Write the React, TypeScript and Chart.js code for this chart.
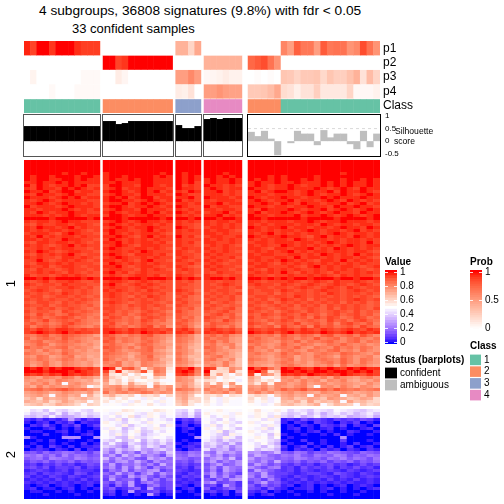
import React, { useEffect, useRef } from "react";
import { Chart, registerables } from "chart.js";

Chart.register(...registerables);

const fontName = '"Liberation Sans", Arial, sans-serif';

const groupSizes = [12, 11, 4, 6, 20];
const groupGaps = [0.475, 0.475, 0.475, 0.95, 0];
const groupColumnWidths = [1, 1, 1, 1, 1.0425];
const heatTokenSizes = [12, 11, 4, 6, 5, 15];

const annotationLabels = ["p1", "p2", "p3", "p4", "Class"];
const p1Values = [0.96, 0.88, 1, 1, 0.92, 1, 1, 1, 0.94, 0.9, 0.9, 0.9, 0, 0, 0, 0, 0, 0, 0, 0, 0, 0, 0, 0.4, 0.4, 0.22, 0.45, 0, 0, 0, 0, 0, 0, 0, 0, 0, 0, 0, 0.62, 0.5, 0.78, 0.68, 0.68, 0.5, 0.8, 0.68, 0.7, 0.7, 0.55, 0.6, 0.85, 0.7, 0.55];
const p2Values = [0, 0, 0, 0, 0, 0, 0, 0, 0, 0, 0, 0, 1, 1, 0.88, 0.92, 1, 1, 1, 1, 1, 1, 1, 0, 0, 0, 0, 0.4, 0.4, 0.4, 0.4, 0.4, 0.4, 0.75, 0.8, 0.85, 0.7, 0.55, 0, 0, 0, 0, 0, 0, 0, 0, 0, 0, 0, 0, 0, 0, 0];
const p3Values = [0, 0.06, 0, 0, 0, 0, 0, 0, 0, 0.03, 0.03, 0.03, 0, 0, 0.1, 0.05, 0, 0, 0, 0, 0, 0, 0, 0.5, 0.5, 0.6, 0.5, 0.04, 0.05, 0.07, 0.1, 0.07, 0.07, 0, 0.02, 0, 0.02, 0, 0.3, 0.28, 0.22, 0.28, 0.28, 0.3, 0.2, 0.3, 0.25, 0.25, 0.32, 0.4, 0.15, 0.35, 0.22];
const p4Values = [0, 0, 0, 0, 0.03, 0, 0, 0, 0.03, 0.03, 0.03, 0.03, 0, 0, 0, 0, 0, 0, 0, 0, 0, 0, 0, 0.1, 0.08, 0.15, 0, 0.5, 0.5, 0.55, 0.5, 0.48, 0.48, 0.28, 0.28, 0.3, 0.35, 0.45, 0.18, 0.15, 0.08, 0.15, 0.15, 0.25, 0.12, 0.12, 0.12, 0.12, 0.22, 0.04, 0.04, 0.04, 0.07];
const classValues = [1, 1, 1, 1, 1, 1, 1, 1, 1, 1, 1, 1, 2, 2, 2, 2, 2, 2, 2, 2, 2, 2, 2, 3, 3, 3, 3, 4, 4, 4, 4, 4, 4, 2, 2, 2, 2, 2, 1, 1, 1, 1, 1, 1, 1, 1, 1, 1, 1, 1, 1, 1, 1];
const silhouetteValues = [0.6, 0.6, 0.6, 0.6, 0.6, 0.6, 0.6, 0.6, 0.6, 0.6, 0.6, 0.6, 0.8, 0.8, 0.68, 0.72, 0.8, 0.8, 0.8, 0.8, 0.8, 0.8, 0.8, 0.64, 0.52, 0.52, 0.6, 0.88, 0.92, 0.88, 0.92, 0.92, 0.92, 0.37, 0.2, 0.41, 0.1, -0.56, 0, -0.08, 0.41, 0.3, 0.3, -0.16, 0.44, 0.15, 0.3, 0.3, -0.12, -0.32, 0.41, -0.24, 0.3];
const silhouetteStatus = [1, 1, 1, 1, 1, 1, 1, 1, 1, 1, 1, 1, 1, 1, 1, 1, 1, 1, 1, 1, 1, 1, 1, 1, 1, 1, 1, 1, 1, 1, 1, 1, 1, 0, 0, 0, 0, 0, 0, 0, 0, 0, 0, 0, 0, 0, 0, 0, 0, 0, 0, 0, 0];
const silhouetteTicks = [-0.5, 0, 0.5, 1];

const valueBarTicks = [0, 0.2, 0.4, 0.6, 0.8, 1];
const valueBarSteps = [-0.03, 0, 0.04, 0.08, 0.12, 0.16, 0.2, 0.24, 0.28, 0.32, 0.36, 0.4, 0.44, 0.48, 0.52, 0.56, 0.6, 0.64, 0.68, 0.72, 0.76, 0.8, 0.84, 0.88, 0.92, 0.96, 1, 1.03];
const probBarTicks = [0, 0.5, 1];
const probBarSteps = [-0.03, 0, 0.04, 0.08, 0.12, 0.16, 0.2, 0.24, 0.28, 0.32, 0.36, 0.4, 0.44, 0.48, 0.52, 0.56, 0.6, 0.64, 0.68, 0.72, 0.76, 0.8, 0.84, 0.88, 0.92, 0.96, 1, 1.035];
const classLegend = ["1", "2", "3", "4"];
const classColors = ["#66C2A5", "#FC8D62", "#8DA0CB", "#E78AC3"];
const statusLegend = ["confident", "ambiguous"];
const statusColors = ["#000000", "#BEBEBE"];
const rowSliceLabels = ["1", "2"];
const rowSliceTicks = [40, 97];

// one string per heatmap row, one character per column (base 36: z = 1, h = about 0.49, 0 = 0)
const heatSliceOne = [
  "zzzzzzzzzzzz zzzzzzzzzzz zzzz zzzzzz zzzzz zzzzzzzzzzzzzzzz",
  "zzzzzzzzzzzz zzzzzzzzzzz zzzz zzzzzz zzzzz zzzzzzzzzzzzzzzz",
  "zzzzzzzzzzzz zzzzzzzzzzz zzzz zzzzzz zzzzz zzzzzzzzzzzzzzzz",
  "zzzzzzzzzzzz zzzzzzzzzzz zzzz zzzzzz zzzzz zzzzzzzzzzzzzzzz",
  "zzzzzzyzzyzz yzzzzzzzzyz zyzz zzzyzz zzzzz zzzzzzzzzyzzzzzz",
  "zyzzyzzzyzzy yzzyzzzzyzy zyzy zzyzyz zzzyz yzzzzyzzzzzzzzzy",
  "zyzzyyzzyzyy yzyyzyzzyyy zyzy yzyyzy zyzyz yzzyzyzzzyzzyzyy",
  "yyzyyzyzyyyy yyzyyyzzyyy zyzx yzyyzy yzyyz yyzyyyzyzyzyyzyy",
  "zxzyxyyzyzxx xzzyyxzzyxy zxyx zyyxyx yzyxy yzyxyyzyzyzyyzyx",
  "yxzyyxzyzyxy xyzxyyzyyyx zyyx yzyxyy zyyxy yzyyyzyxyzyxzyyx",
  "zyyzxyzzxyyx yzzyxyzyzxy yxzy yyzxyx yzxyz zyxyzyyzxzyyzyxy",
  "yxzyyxyzyyxx xyzyyxzyyyx zyxx yyyxyx yyyxy yyxyzyxyyzyxyzyx",
  "zyyyxyzyzxyy yzyzxyzzxyy yyzx zyyyxy zyxyy zyyxyyzyzyyyzyyy",
  "yxyzyxyyyyxx yzzyyxyzyxy zxyx yxyyyx yzyxy yzxyyxyzyxzyxyxx",
  "yyzyxyzyyxyx xyyzxyzyzyx yyxy yyzxyy yyzyx zyxzyyxyyzxyzxyy",
  "zxyyyxyzyyyx yzzyxyyzyxy zyxx zxyyxx zyyxy yxyyzyyxzyyzyyxy",
  "yyxyyyzyxyxy xyzyyxzyyyx yxyx yyxyyx yxzyy yzyxyyzxyzyxyzyx",
  "yxzyxyyzyyxx yzyxyyzyzxy zyxy xyyzxy yzxyy zyxyzyxyzyyxzyyx",
  "yyyxyxyzyxyy xzzyxyyzyyx yxyx yyzxyx zyyxy yyzxyyzyxyzyxyzy",
  "zzzzyzzzzzyz zzzyzzzzzyz zzyz zzyzzy zzyzz zzzyzzzzyzzzzyzy",
  "yxyyxyzyyxxx xyzyxyzyyxy yxyx yxyyxy yyxyy yxyyzyxyyzyyyxyx",
  "xwyxxyyxyyxw yzyxyxyyxyx yxxw yxyxyx yxyxy yyxyyxzyxyyxyyxx",
  "yxzyyxyzxyxx xyzyxyyzyxx zyxw xyyxyx zyxyy zxyyxyyxyzyyxzyx",
  "yxyxyyxyyxwx yzyyxxyzxyx yxyx yxyyxw yyxyx yyxyzyxyyxyzxyxy",
  "xyyyxwyzyxxw xzyxyxyyyxw yxxx yyxyxx yxyzx yxyxyyxyzyxyyxyx",
  "yxzxyxyyxyxx yyzyxwyzxyx zxyw xyyxxy zyxyy zyyxwyzxyyxzyxyx",
  "yyxyxxzyyxxw xzyxyxyxyxx yxxx yxyxyx yxyxy yxzyxyyxyxyyxyxw",
  "xwyyxyyxyxwx yyzxyxyyxyw yxyw yyxxyx xyyxy yyxyyxyzyxyyxzxx",
  "yxyxwxyzxyxx xyzyxwyyyxx yxxw xyxyxw yxyxx zyxyxyxyxyzyxyyx",
  "xxyxyxyyxxwx yzyxxyyxyxw xyxx yxxyxx yyxwy yxyyzxyxzyxyxyxw",
  "yxzyxwxyyxxw xyyxyxzyxxx yxwx xyxyxw xyxyx yzxyxyyxyyxyyxwx",
  "xwyxyxyzxwxx yzyxwyyyxyw yxxw yxyxxx yxyyx xyyxyxzyxyxzxyxx",
  "yxyxxwyyxyxw xyzyxxyxyxx xyxw xyxxyw yyxxy yxzxyyxyxyyxyxwx",
  "xxzxwxyxyxwx yyxyxwyzxxw yxwx yxyxwx xyxyx zyxyxwyyxzxyxyxw",
  "xwyyxyxyxxxw xzyxyxyxyxx xxyw xyxwxx yxyxw yxyxyxyxyxyxyxxw",
  "yxxywxyyxwxx yyzxwxyyxwx yxwv yxyxxw xyyxx xyxwyzxyxyyxwxyx",
  "xwyxxwxyxxwx xyyxxwyxyxw xyxw xyxxwx yxwyx yxyxxyxyxyxyxwxw",
  "xxyxyxwyxwxw yzxywxyxxxx xwxw xwyxxw xyxyx zxwyxyxwyxxyxyxw",
  "ywxxwxyxyxww xyxwxyyxywx yxxv yxxwxx yxxwx xyxxyxyxwyxyxxwx",
  "zzyzyzzzzyzy zzzyzzyzzzy zyzy yzzyzx zzyzy zyzzyzzzyzzyzzyy",
  "xwxywxxyxwwx xyyxwxyxwxw xwxv xxwxxw yxwxx xyxwxyxwyxxyxwxw",
  "yxwxxwyxxxww yzxwxyxyxww xxwv xwxyxw xyxxw yxwxyxwxyxwxyxwx",
  "xwxxwxxyxwxv xyxxwxyxwxw xwwv xxwxwx wxxwx xwxyxwxyxwyxwxxv",
  "wxyxwvxxwxwv yxyxwxwyxww yxwu xwxxwv xwxxw yxwxwxyxxwxyxwxw",
  "xwxwxwyxwxwv xyxwxwxxwxv xwxv wxwxwx xwwxv xwxxwxwyxwxxwxwv",
  "wxxvwxxwxwvw xyxwvxwyxwv wxvu xwxwxv wxxwx xwyxwxxwxwxwxwvw",
  "xwxwxwwxwxwv wxxwxwxwxwv xwvu wxwwxv xwxvw yxwxvxwxxwxyxwxv",
  "wvxxwvxwxwvu xyxwvwxxwvw wxvv xvwxwu wxwxv xwxwxwxwxvxwxvwv",
  "xwwxvwxwwvwu wxwvxwxwxwu xwvu wxwvwv xwvwx wxvxwxvxwxwxwvwu",
  "wvxwxvwxwvuv xxwvwvxwvwv wvwt xwvwxu wxwvw xwvwxwvxvxwxwvxu",
  "xvwwvuxwvwvu wxvwvuwxwvt xvut wvwxvu xwvwu wxwvxwvwxwvxvwvu",
  "wuxvwuvxwvut xwvwuvxwvwu wvut vwxvwt wvxwv xwvxvwuwxvwxvwut",
  "xvwuvwxwuvtu vxwuvtwxwvt wuvs xwvuwu xvwvu wxvwuxvxwuvxwuvt",
  "wuvxuvwvwutt xwvuvuxwuvs vwus wvuxvt wvuwv xwuvwvuxvwuwxvut",
  "vwuvtuwxvuts wxutvuwvuts wvtr uwvvus xwvtv wvxuvwuwtwxvuwtt",
  "wtvwuvxvutsu xwuvtuwxtvr vwtq vwutvs wuvwt xvuwtxvwuvwuxvus",
  "xwyxwyyxwxww yyxwyxyxxwx xywt xyxwxv yxwxx yxwyxwyxwxyxwyxv",
  "xyzyxyzxyxxw yzyxyxzyxyw yxyu yxyxyw zyxyw yzxyyxzyxyzxyxyw",
  "utvwtuwvutsq wvtsutvwtsr vusp uvtvsr vutus wutvusvwtuvtwusr",
  "vsuvutwutsrs vwtutsvutsq utsp vtuurq uvtst vusutwtuvsuvtsur",
  "tuvstuvtusrq wvsutsuvtrp utrp uvsurq vutsr utvsutuvtsuvsutq",
  "stvurtutsrsq uvtsrtvusrq tsqo turstp tusrs vtsutrsutvtstrsr",
  "vtustuvstsrp wvusuruvssp uspo vusqtq vstrt utvsrutsvtusutrq",
  "strusrutrsqr uvtrstuvrqo tsqn tusrqp usrtq tusrutsuvstrusrq",
  "utsrtsvtsrqq vutsqruusrp usqo utrsqo tusrs vtusrtutsvutsrtp",
  "srutqrtuqrpq utsrpstvrqn troo sturqo tsrqs utqsrutsqutrstqr",
  "tsutrsutrsqp vtrsqrtuspo uspn turqsn utsqr tuqsrtutsvtrutrq",
  "trsurqtsrqrp tsuqrptsrqn tsqo srqtqn trrqs utrsqstusvtrusrq",
  "tqsurqtsrqro stuqrptsqpm srpm rsqtpn srqpr tusrqsrtqurstrqp",
  "zyzxzyzzyxyw zylvwrkqtsk yxzu yxlmsq zwyur zyzyxzyzyxzyzyyw",
  "zzzyzzzyzyxw xmyknpwkusj yzyt zklltk yzvkn zzyzyzzyzzyzyzxw",
  "yxywyxzyxyxv ukjmhlhisrh xyws xkqkhm xjtql yxyxzyxyxzyxwyxv",
  "srqtsrutqsrp smkikjmhnli srpm pmhkjh qnhik srtqsrtqusrqstro",
  "rqsrqtsrqpqm rkmhlhijkhh srqk lkhjig pmjlh rsqtrspsrtqprqsq",
  "qsrtqshrsqpo pkmjqlkhoji qrpl pjqkri okqjs sqrtqrsqrsrqpsqn",
  "rptqsrqsrphl qrsorpqhspr qspm qsrhpr rqsps rqstphrsqtrpsrph",
  "tuvtuvwutusr srtqutsqrps utsp trsqus srtqs vtuwtuvtwutustur",
  "qrsrpqsrqprn uqstrsutqsr qrpn qsrtps rtqsp rsqrqpsrqsrpqrpo",
  "pqrphqrpqhpl nplkmhlkmhl pqni lkmhlk kmlhn qrpqhrpqrhpqorpm",
  "nplqopqnopnm jlhkihgjigh oqml lhgjih likgh pqnoqpnrqpnoqpln",
  "ponplnqomnhl khjigkhigjh npkl kigjhh khjgi onplqmonphqnomlk",
  "mnolmponlhml hihgjihkhgh mokh jhgihh ihghk nomlnphlonmhnlmh",
];

const heatSliceTwo = [
  "ifgdhfeghfei ihhkjhihkji fehd hijhih ikhij hegfdgfehgfedfgh",
  "gdefcgbfdgef hgjhigfjhgi ecgb jhihgj hjigh fdegcfbegdfcegde",
  "dcebgcabdfce gifhkegjifh dcfa ifhjgi gjifk ecfbdgcedfbcdfbc",
  "2131213a4132 gfjdhgifhge 1325 hgeifh hifjg 1214232132324312",
  "101202130211 jhgeihfjhig 0213 ifhjge jgihf 1021032102130102",
  "021410214013 ihfjdghgiej 1201 gjehfi ihfjg 0102103213021031",
  "100120102001 gjhcfiegjgh 0120 jhfigd hgjeh 0120101201001201",
  "011001201010 ifgdhjdehfi 0100 hgjcfh jhfgi 0010120100210010",
  "000200100120 hfjeigcfgih 0010 igecjg ighdj 1001001020100100",
  "910000999009 hgdcjfegihf 0009 hfdjgc hjiei 0100000009000000",
  "001020010010 fdhceibfdgd 0100 gebfcd gihfd 1002001003000100",
  "010010100201 cgb9fdaecfb 1012 dfcae9 hfieb 0100201001020012",
  "102031020112 eca7dgbfd9c 0121 cead8b ifcgd 2013010201301201",
  "012102103021 b8dacfa9ceb 1023 f9bc7a hcfeb 1021203120210213",
  "453645764536 a6c795b8a7d 5476 86c9a7 9a78c 5476354765436547",
  "768574857645 7a5c8b6974b 6587 b7a586 7b965 7685476587465768",
  "567487658756 c6a7954b8a6 7645 69b7c5 a6875 6587564768576476",
  "354635463545 859a6b74967 4536 7a5869 8695b 5463546354635465",
  "231324231243 5a4769584b6 3423 47a569 5a746 3242313423124231",
  "342413324132 694a5b73857 2314 594a76 96478 2314232413242314",
  "123212313221 375a4869a35 3212 483a75 4a753 2313212321321232",
  "231323214312 64a5837a496 2132 6a4853 75a43 3212332143213213",
  "312132132123 4853a695374 1323 3a5948 84a63 2132123213212321",
  "121213121312 3a4562a4736 2121 53749a 56384 1213121312131212",
  "212121212121 5374a268534 1212 7a3452 36a45 2121212121211212",
  "101201210120 4163a215734 2102 341a52 52634 1201201012012101",
  "120110120101 3512461a324 0120 512463 43152 1011201201010120",
  "011001010010 2301a123412 1010 231204 21301 0100101001001001",
  "000100001000 1201010a201 0001 010201 10120 0010000100010000",
  "000000000000 00000000000 0000 000000 00000 0000000000000000",
];

const mixCache = new Map();
const labBase = (rgb) => {
  const lin = rgb.map((c) => {
    const v = c / 255;
    return v > 0.04045 ? Math.pow((v + 0.055) / 1.055, 2.4) : v / 12.92;
  });
  const X = (0.4124 * lin[0] + 0.3576 * lin[1] + 0.1805 * lin[2]) / 0.95047;
  const Y = 0.2126 * lin[0] + 0.7152 * lin[1] + 0.0722 * lin[2];
  const Z = (0.0193 * lin[0] + 0.1192 * lin[1] + 0.9505 * lin[2]) / 1.08883;
  const f = (t) => (t > 0.008856 ? Math.cbrt(t) : 7.787 * t + 16 / 116);
  return [116 * f(Y) - 16, 500 * (f(X) - f(Y)), 200 * (f(Y) - f(Z))];
};
const labToCss = (lab) => {
  const fy = (lab[0] + 16) / 116;
  const fx = lab[1] / 500 + fy;
  const fz = fy - lab[2] / 200;
  const g = (t) => (t > 0.206893 ? t * t * t : (t - 16 / 116) / 7.787);
  const X = g(fx) * 0.95047;
  const Y = g(fy);
  const Z = g(fz) * 1.08883;
  const l = [3.2406 * X - 1.5372 * Y - 0.4986 * Z, -0.9689 * X + 1.8758 * Y + 0.0415 * Z, 0.0557 * X - 0.204 * Y + 1.057 * Z];
  const s = l.map((v) => {
    const c = v <= 0.0031308 ? 12.92 * v : 1.055 * Math.pow(Math.max(v, 0), 1 / 2.4) - 0.055;
    return Math.max(0, Math.min(255, Math.round(c * 255)));
  });
  return `rgb(${s[0]},${s[1]},${s[2]})`;
};
const labWhite = labBase([255, 255, 255]);
const labRed = labBase([255, 0, 0]);
const labBlue = labBase([0, 0, 255]);
const mix = (a, b, t) => {
  const k = `${a[2]}|${b[2]}|${t.toFixed(3)}`;
  if (mixCache.has(k)) return mixCache.get(k);
  const c = labToCss([a[0] + (b[0] - a[0]) * t, a[1] + (b[1] - a[1]) * t, a[2] + (b[2] - a[2]) * t]);
  mixCache.set(k, c);
  return c;
};
const clamp01 = (v) => Math.max(0, Math.min(1, v));
const heatColor = (v) => (v < 0.5 ? mix(labBlue, labWhite, clamp01(v / 0.5)) : mix(labWhite, labRed, clamp01((v - 0.5) / 0.5)));
const probColor = (v) => mix(labWhite, labRed, clamp01(v));

const PLOT_LEFT = 24;
const PLOT_RIGHT = 380;
const CANVAS_W = 504;

const columnCenters = [];
const groupSpans = [];
const groupColumns = [];
let cursorUnits = 0;
let columnCursor = 0;
groupSizes.forEach((size, g) => {
  const start = cursorUnits;
  const w = groupColumnWidths[g];
  const cols = [];
  for (let i = 0; i < size; i++) {
    columnCenters.push(cursorUnits + (i + 0.5) * w);
    cols.push(columnCursor + i);
  }
  groupColumns.push(cols);
  columnCursor += size;
  cursorUnits += size * w;
  groupSpans.push([start, cursorUnits]);
  cursorUnits += groupGaps[g];
});
const xUnits = cursorUnits;
const colPx = (PLOT_RIGHT - PLOT_LEFT) / xUnits;
const barPxOf = (g) => colPx * groupColumnWidths[g] + 0.5;

// one dataset per sample group, because the bar width is a dataset option
const groupedBars = (yOf, colorOf, extra = {}) =>
  groupColumns.map((cols, g) => ({
    data: cols.map((c) => ({ x: columnCenters[c], y: yOf(c) })),
    backgroundColor: cols.map(colorOf),
    borderWidth: 0,
    barThickness: barPxOf(g),
    inflateAmount: 0,
    grouped: false,
    ...extra,
  }));

const parseRow = (row) => {
  const tokens = row.split(" ");
  let out = [];
  heatTokenSizes.forEach((size, i) => {
    const t = tokens[i] || "h";
    for (let c = 0; c < size; c++) out.push(parseInt(t[Math.min(c, t.length - 1)], 36) / 35);
  });
  return out;
};

const fixAxis = (s, width) => {
  s.width = width;
  s.paddingTop = 0;
  s.paddingBottom = 0;
  if (s._margins) {
    s._margins.top = 0;
    s._margins.bottom = 0;
  }
};

const xAxis = () => ({ type: "linear", display: false, min: 0, max: xUnits, offset: false, grid: { display: false } });

const baseOptions = (padLeft, padRight, padTop, padBottom, extra) => ({
  responsive: false,
  animation: false,
  devicePixelRatio: 1,
  events: [],
  layout: { autoPadding: false, padding: { left: padLeft, right: padRight, top: padTop, bottom: padBottom } },
  plugins: { legend: { display: false }, tooltip: { enabled: false }, title: { display: false } },
  ...extra,
});

const buildHeatConfig = () => {
  const rowsOne = heatSliceOne.map(parseRow);
  const rowsTwo = heatSliceTwo.map(parseRow);
  const total = rowsOne.length + 1 + rowsTwo.length;
  const datasets = groupColumns.map((cols, g) => {
    const data = [];
    const colors = [];
    cols.forEach((col) => {
      rowsOne.forEach((row, r) => {
        data.push({ x: columnCenters[col], y: [r, r + 1] });
        colors.push(heatColor(row[col]));
      });
      rowsTwo.forEach((row, r) => {
        const top = rowsOne.length + 1 + r;
        data.push({ x: columnCenters[col], y: [top, top + 1] });
        colors.push(heatColor(row[col]));
      });
    });
    return { data, backgroundColor: colors, borderWidth: 0, barThickness: barPxOf(g), inflateAmount: 0, grouped: false };
  });
  return {
    type: "bar",
    data: { datasets },
    options: baseOptions(0, CANVAS_W - PLOT_RIGHT, 0, 0, {
      scales: {
        x: xAxis(),
        y: {
          type: "linear",
          reverse: true,
          min: 0,
          max: total,
          position: "left",
          grid: { display: false, drawTicks: false },
          border: { display: false },
          afterBuildTicks: (s) => { s.ticks = rowSliceTicks.map((value) => ({ value })); },
          afterFit: (s) => fixAxis(s, PLOT_LEFT),
          ticks: { callback: (_v, i) => rowSliceLabels[i], minRotation: 90, maxRotation: 90, padding: 13, color: "#000", font: { family: fontName, size: 13 }, autoSkip: false },
        },
      },
    }),
  };
};

const buildAnnotationConfig = () => {
  const rows = [p1Values, p2Values, p3Values, p4Values];
  const datasets = [];
  rows.forEach((vals, r) => {
    datasets.push(...groupedBars(() => [r - 0.5, r + 0.5], (c) => probColor(vals[c]), { label: annotationLabels[r] }));
  });
  datasets.push(...groupedBars(() => [3.54, 4.5], (c) => classColors[classValues[c] - 1], { label: "Class" }));
  return {
    type: "bar",
    data: { datasets },
    options: baseOptions(PLOT_LEFT, 0, 0, 0, {
      scales: {
        x: xAxis(),
        y: {
          type: "linear",
          reverse: true,
          min: -0.5,
          max: 4.5,
          position: "right",
          grid: { display: false, drawTicks: false },
          border: { display: false },
          afterBuildTicks: (s) => { s.ticks = annotationLabels.map((_l, i) => ({ value: i })); },
          afterFit: (s) => fixAxis(s, CANVAS_W - PLOT_RIGHT),
          ticks: { callback: (_v, i) => annotationLabels[i], padding: 3, color: "#000", font: { family: fontName, size: 12 }, autoSkip: false },
        },
      },
    }),
  };
};

const frameCount = groupSpans.length;
const panelFramesPlugin = {
  id: "panelFrames",
  afterDatasetsDraw(chart) {
    const { ctx, scales, chartArea } = chart;
    ctx.save();
    groupSpans.forEach((span, i) => {
      const x0 = scales.x.getPixelForValue(span[0]);
      const x1 = scales.x.getPixelForValue(span[1]);
      ctx.strokeStyle = i === frameCount - 1 ? "#000" : "#555";
      ctx.lineWidth = 1;
      ctx.strokeRect(Math.round(x0) - 0.5, chartArea.top + 0.5, Math.round(x1 - x0) + 1, chartArea.height - 1);
    });
    ctx.restore();
  },
};

const buildSilhouetteConfig = () => {
  const last = groupSpans[frameCount - 1];
  return {
    type: "bar",
    data: {
      datasets: [
        ...groupedBars((c) => silhouetteValues[c], (c) => (silhouetteStatus[c] ? statusColors[0] : statusColors[1]), { type: "bar", order: 1 }),
        {
          type: "line",
          order: 2,
          data: [{ x: last[0], y: 0.5 }, { x: last[1], y: 0.5 }],
          borderColor: "#d9d9d9",
          borderWidth: 1,
          borderDash: [3, 3],
          pointRadius: 0,
        },
      ],
    },
    options: baseOptions(PLOT_LEFT, 0, 6, 0, {
      scales: {
        x: xAxis(),
        y: {
          type: "linear",
          min: -0.63,
          max: 1.08,
          position: "right",
          grid: { display: false, tickLength: 4, color: "#000" },
          border: { display: false },
          afterBuildTicks: (s) => { s.ticks = silhouetteTicks.map((value) => ({ value })); },
          afterFit: (s) => fixAxis(s, CANVAS_W - PLOT_RIGHT),
          ticks: { callback: (v) => String(v), padding: 1, color: "#000", font: { family: fontName, size: 8 }, autoSkip: false },
        },
      },
    }),
    plugins: [panelFramesPlugin],
  };
};

const whiteTicksPlugin = {
  id: "whiteTicks",
  afterDatasetsDraw(chart) {
    const { ctx, scales, chartArea } = chart;
    ctx.save();
    ctx.strokeStyle = "rgba(255,255,255,0.85)";
    ctx.lineWidth = 1;
    scales.y.ticks.forEach((t) => {
      const y = Math.round(scales.y.getPixelForValue(t.value)) + 0.5;
      ctx.beginPath();
      ctx.moveTo(chartArea.left, y);
      ctx.lineTo(chartArea.left + 3, y);
      ctx.moveTo(chartArea.right - 3, y);
      ctx.lineTo(chartArea.right, y);
      ctx.stroke();
    });
    ctx.restore();
  },
};

const buildColorBarConfig = (steps, ticks, colorFn, yMin, yMax, plotW, axisW) => ({
  type: "bar",
  data: {
    datasets: [{
      data: steps.slice(0, -1).map((s, i) => ({ x: 0, y: [s, steps[i + 1]] })),
      backgroundColor: steps.slice(0, -1).map((s, i) => colorFn((s + steps[i + 1]) / 2)),
      borderWidth: 0,
      barThickness: plotW,
      inflateAmount: 0.4,
      grouped: false,
    }],
  },
  options: baseOptions(0, 0, 6, 6, {
    scales: {
      x: { type: "linear", display: false, min: -0.5, max: 0.5, offset: false },
      y: {
        type: "linear",
        min: yMin,
        max: yMax,
        position: "right",
        grid: { display: false, drawTicks: false },
        border: { display: false },
        afterBuildTicks: (s) => { s.ticks = ticks.map((value) => ({ value })); },
        afterFit: (s) => fixAxis(s, axisW),
        ticks: { callback: (v) => String(v), padding: 3, color: "#000", font: { family: fontName, size: 10 }, autoSkip: false },
      },
    },
  }),
  plugins: [whiteTicksPlugin],
});

const buildSwatchConfig = (labels, colors, plotW, axisW) => ({
  type: "bar",
  data: {
    datasets: [{
      data: labels.map((_l, i) => ({ x: 0, y: [i - 0.45, i + 0.45] })),
      backgroundColor: colors,
      borderWidth: 0,
      barThickness: plotW,
      inflateAmount: 0,
      grouped: false,
    }],
  },
  options: baseOptions(0, 0, 0, 0, {
    scales: {
      x: { type: "linear", display: false, min: -0.5, max: 0.5, offset: false },
      y: {
        type: "linear",
        reverse: true,
        min: -0.5,
        max: labels.length - 0.5,
        position: "right",
        grid: { display: false, drawTicks: false },
        border: { display: false },
        afterBuildTicks: (s) => { s.ticks = labels.map((_l, i) => ({ value: i })); },
        afterFit: (s) => fixAxis(s, axisW),
        ticks: { callback: (_v, i) => labels[i], padding: 3, color: "#000", font: { family: fontName, size: 10 }, autoSkip: false },
      },
    },
  }),
});

const panels = [
  { left: 0, top: 41, width: CANVAS_W, height: 72, build: buildAnnotationConfig },
  { left: 0, top: 108, width: CANVAS_W, height: 49, build: buildSilhouetteConfig },
  { left: 0, top: 160, width: CANVAS_W, height: 339, build: buildHeatConfig },
  { left: 385, top: 264, width: 60, height: 86, build: () => buildColorBarConfig(valueBarSteps, valueBarTicks, heatColor, -0.03, 1.03, 12, 48) },
  { left: 470, top: 264, width: 34, height: 72, build: () => buildColorBarConfig(probBarSteps, probBarTicks, probColor, -0.03, 1.035, 12, 22) },
  { left: 470, top: 354, width: 34, height: 47, build: () => buildSwatchConfig(classLegend, classColors, 11, 23) },
  { left: 385, top: 367, width: 70, height: 24, build: () => buildSwatchConfig(statusLegend, statusColors, 12, 58) },
];

const texts = [
  { text: "4 subgroups, 36808 signatures (9.8%) with fdr < 0.05", left: 39, top: 3, size: 13.7, weight: 400 },
  { text: "33 confident samples", left: 72, top: 22, size: 13, weight: 400 },
  { text: "Silhouette", left: 395, top: 127, size: 8.6, weight: 400 },
  { text: "score", left: 394, top: 137, size: 8.6, weight: 400 },
  { text: "Value", left: 385, top: 256, size: 10, weight: 700 },
  { text: "Prob", left: 470, top: 256, size: 10, weight: 700 },
  { text: "Class", left: 470, top: 340, size: 10, weight: 700 },
  { text: "Status (barplots)", left: 385, top: 354, size: 10, weight: 700 },
];

export default function App() {
  const refs = useRef([]);
  useEffect(() => {
    const charts = panels.map((p, i) => new Chart(refs.current[i], p.build()));
    return () => charts.forEach((c) => c.destroy());
  }, []);
  return (
    <div style={{ position: "fixed", left: 0, top: 0, width: 504, height: 504, background: "#fff", overflow: "hidden" }}>
      {panels.map((p, i) => (
        <canvas
          key={i}
          ref={(el) => { refs.current[i] = el; }}
          width={p.width}
          height={p.height}
          style={{ position: "absolute", left: p.left, top: p.top, width: p.width, height: p.height, display: "block" }}
        />
      ))}
      {texts.map((t) => (
        <div
          key={t.text}
          style={{ position: "absolute", left: t.left, top: t.top, fontFamily: fontName, fontSize: t.size, fontWeight: t.weight, lineHeight: 1.1, whiteSpace: "nowrap", color: "#000" }}
        >
          {t.text}
        </div>
      ))}
    </div>
  );
}
